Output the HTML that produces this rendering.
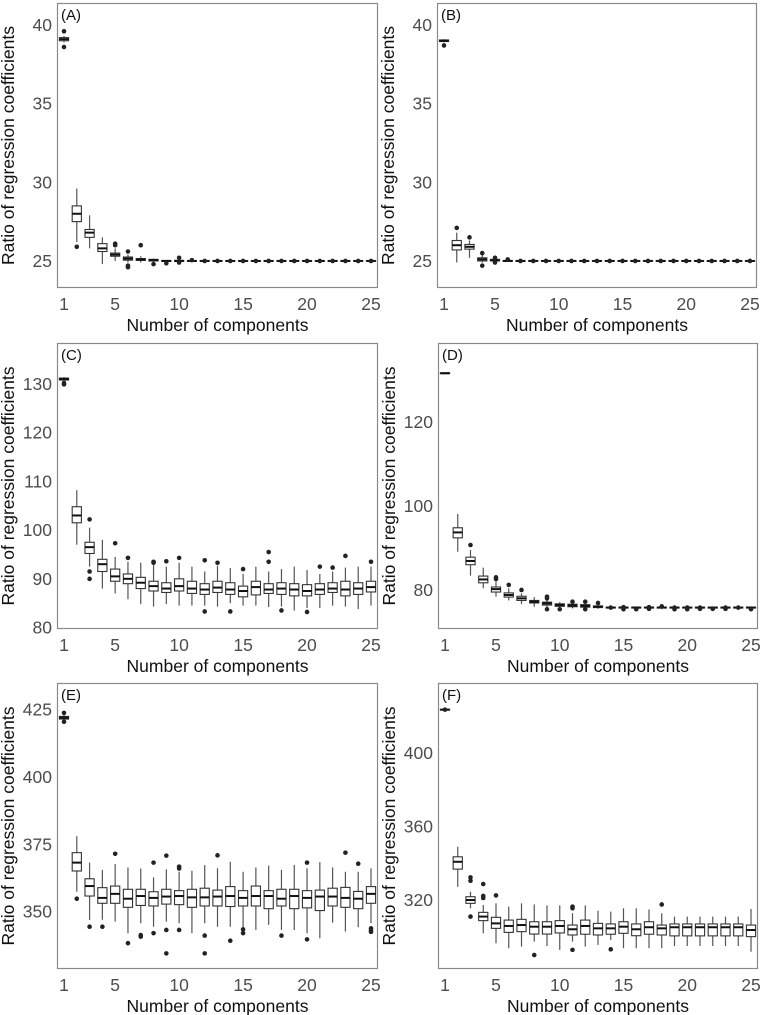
<!DOCTYPE html>
<html><head><meta charset="utf-8">
<style>
body{margin:0;background:#fff;}
svg{display:block;font-family:"Liberation Sans",sans-serif;}
</style></head>
<body>
<svg id="chart" width="760" height="1015" viewBox="0 0 760 1015" xmlns="http://www.w3.org/2000/svg"></svg>
<script>
const categories=[1,2,3,4,5,6,7,8,9,10,11,12,13,14,15,16,17,18,19,20,21,22,23,24,25];
const xTickLabels=[1,5,10,15,20,25];
const panelLabels=["(A)","(B)","(C)","(D)","(E)","(F)"];
const yTicksA=[25,30,35,40], yTicksB=[25,30,35,40], yTicksC=[80,90,100,110,120,130], yTicksD=[80,100,120], yTicksE=[350,375,400,425], yTicksF=[320,360,400];
// Panel A
const medA=[39.1,28.0,26.8,25.8,25.4,25.15,25.1,25.05,25.0,25.0,25.0,25.0,25.0,25.0,25.0,25.0,25.0,25.0,25.0,25.0,25.0,25.0,25.0,25.0,25.0];
const q1A=[39.0,27.5,26.5,25.6,25.3,25.05,25.03,25.0,24.97,24.97,24.98,24.98,24.98,24.98,24.98,24.98,24.98,24.98,24.98,24.98,24.98,24.98,24.98,24.98,24.98];
const q3A=[39.2,28.5,27.0,26.1,25.5,25.25,25.15,25.1,25.03,25.04,25.02,25.02,25.02,25.02,25.02,25.02,25.02,25.02,25.02,25.02,25.02,25.02,25.02,25.02,25.02];
const loA=[38.9,26.2,25.8,24.8,25.0,24.9,24.9,24.95,24.95,24.93,24.96,24.96,24.96,24.96,24.96,24.96,24.96,24.96,24.96,24.96,24.96,24.96,24.96,24.96,24.96];
const hiA=[39.3,29.6,27.9,26.5,25.8,25.4,25.3,25.15,25.06,25.1,25.04,25.04,25.04,25.04,25.04,25.04,25.04,25.04,25.04,25.04,25.04,25.04,25.04,25.04,25.04];
const outA=[[1,39.6],[1,38.6],[2,25.9],[5,26.1],[5,26.0],[6,25.6],[6,24.7],[6,24.6],[7,26.0],[8,24.8],[9,24.85],[10,25.2],[10,24.9],[11,25.05],[12,25.0],[13,25.0],[14,25.0],[15,25.0],[16,25.0],[17,25.0],[18,25.0],[19,25.0],[20,25.0],[21,25.0],[22,25.0],[23,25.0],[24,25.0],[25,25.0]];
// Panel B
const medB=[39.0,26.0,25.9,25.1,25.05,25.0,25.0,25.0,25.0,25.0,25.0,25.0,25.0,25.0,25.0,25.0,25.0,25.0,25.0,25.0,25.0,25.0,25.0,25.0,25.0];
const q1B=[38.95,25.7,25.75,25.0,25.0,24.97,24.98,24.98,24.98,24.98,24.98,24.98,24.98,24.98,24.98,24.98,24.98,24.98,24.98,24.98,24.98,24.98,24.98,24.98,24.98];
const q3B=[39.05,26.3,26.05,25.2,25.1,25.03,25.02,25.02,25.02,25.02,25.02,25.02,25.02,25.02,25.02,25.02,25.02,25.02,25.02,25.02,25.02,25.02,25.02,25.02,25.02];
const loB=[38.9,24.9,25.2,24.9,24.95,24.95,24.96,24.96,24.96,24.96,24.96,24.96,24.96,24.96,24.96,24.96,24.96,24.96,24.96,24.96,24.96,24.96,24.96,24.96,24.96];
const hiB=[39.1,26.8,26.3,25.4,25.15,25.06,25.04,25.04,25.04,25.04,25.04,25.04,25.04,25.04,25.04,25.04,25.04,25.04,25.04,25.04,25.04,25.04,25.04,25.04,25.04];
const outB=[[1,38.7],[2,27.1],[3,26.5],[4,24.7],[4,25.5],[5,25.2],[5,24.9],[6,25.1],[7,25.0],[8,25.0],[9,25.0],[10,25.0],[11,25.0],[12,25.0],[13,25.0],[14,25.0],[15,25.0],[16,25.0],[17,25.0],[18,25.0],[19,25.0],[20,25.0],[21,25.0],[22,25.0],[23,25.0],[24,25.0],[25,25.0]];
// Panel C
const medC=[131,103,96.5,93,90.5,90,89.2,88.5,88,88.5,88,87.8,88.2,87.8,87.5,88.3,87.8,88,87.8,87.5,87.8,88,87.8,88,88.3];
const q1C=[130.8,101.5,95.2,91.5,89.5,89,88,87.5,87.2,87.5,87,86.8,87.2,86.8,86.3,86.7,87,86.8,86.5,86.5,86.8,87.2,86.5,86.8,87.3];
const q3C=[131.2,104.8,97.5,94,92,91,90.3,89.5,89.2,90,89.5,89,89.5,89.2,88.5,89.5,89,89.2,89,88.8,89,89.2,89.5,89.2,89.5];
const loC=[130.6,97,92.5,88,87,85.8,84.8,84.3,84.8,84.5,84.5,84.5,84.3,85,84.5,84.5,84.2,84.3,83.5,84,84,84.5,84.3,83.8,84.5];
const hiC=[131.4,108.2,100.5,98,94.5,93.5,93.3,92.8,92.5,93.3,92.5,91.5,92.7,92.2,91,92.5,91.5,92,92.5,91.8,91,91.5,92.3,92.5,92.5];
const outC=[[1,130.2],[1,129.9],[3,102.2],[3,91.5],[3,90],[5,97.3],[6,94.3],[8,93.5],[8,93.3],[9,93.6],[10,94.3],[12,93.8],[12,83.3],[13,93.3],[14,83.3],[15,92],[17,95.5],[17,93.5],[18,83.5],[20,83.2],[21,92.5],[22,92.3],[23,94.7],[25,93.5]];
// Panel D
const medD=[131.6,93.7,86.9,82.5,80.2,78.8,78,77.2,76.8,76.4,76.3,76.2,76,75.8,75.8,75.8,75.8,75.8,75.8,75.8,75.8,75.8,75.8,75.8,75.8];
const q1D=[131.5,92.4,86,81.7,79.5,78.3,77.5,76.9,76.4,76.1,76.0,75.9,75.8,75.7,75.7,75.7,75.7,75.7,75.7,75.7,75.7,75.7,75.7,75.7,75.7];
const q3D=[131.7,94.8,87.8,83.3,80.7,79.3,78.5,77.5,77.1,76.7,76.6,76.5,76.2,75.9,75.9,75.9,75.9,75.9,75.9,75.9,75.9,75.9,75.9,75.9,75.9];
const loD=[131.4,89.1,83.4,80.4,78.4,77.5,76.6,76,75.9,75.6,75.6,75.6,75.5,75.5,75.4,75.4,75.4,75.4,75.4,75.4,75.4,75.4,75.4,75.5,75.4];
const hiD=[131.8,98.1,89.5,85.3,82,80.4,79.2,78.3,77.6,77.1,77,76.9,76.6,76.1,76.1,76.1,76.1,76.1,76.1,76.1,76.1,76.1,76.1,76.1,76.1];
const outD=[[3,90.7],[5,83],[5,82.6],[6,81.2],[7,80],[9,78.4],[9,78],[9,75.4],[10,75.4],[11,77.2],[12,77.2],[12,75.4],[13,76.9],[14,75.8],[15,75.4],[15,75.9],[16,75.4],[17,75.5],[17,75.9],[18,76.1],[19,75.4],[19,75.8],[20,75.4],[20,75.8],[21,75.5],[21,75.8],[22,75.5],[23,75.5],[23,75.8],[24,75.8],[25,75.4]];
// Panel E
const medE=[422,368.2,359.5,355.1,356.6,354.8,355.8,355.1,355.6,355.8,355.3,355.3,355.6,355.8,355.1,355.8,355.8,354.8,355.8,355.1,355.6,355.6,355.1,354.8,356.6];
const q1E=[421.5,365.1,355.8,353.1,353.1,351.6,352.3,352.1,352.8,352.6,351.6,352.1,352.1,351.9,352.1,352.1,351.1,352.1,351.1,351.4,350.4,352.1,351.6,351.1,353.1];
const q3E=[422.5,371.9,362.2,358.9,359.5,358.3,358.3,357.4,358.3,357.8,358.3,358.7,358.0,359.3,357.8,359.5,357.8,358.3,358.3,357.8,358.0,358.7,359.0,357.5,359.3];
const loE=[421,357.4,346.9,347,346.3,342,345.7,344.4,346.3,345.7,342,345.7,344.4,344.4,342,343.2,345.1,343.2,343.2,342,340.1,345.9,342.6,344.2,345.7];
const hiE=[423,378,368.2,365.5,367.7,366.4,366,362.7,365.7,364.8,365.2,367.3,366.1,368.5,364.8,366.4,367.1,365.5,367.3,366.1,368.4,366.4,364.8,364.8,366.1];
const outE=[[1,423.8],[1,420.5],[2,354.8],[3,344.4],[4,344.4],[5,371.5],[6,338.3],[7,341.3],[7,340.7],[8,368.2],[8,342],[9,370.8],[9,343.2],[9,334.5],[10,366.7],[10,366],[10,343.2],[12,341.1],[12,334.5],[13,370.9],[14,339.2],[15,343.4],[15,342],[18,341.1],[20,368.2],[20,339.7],[23,371.9],[24,367.8],[25,343.8],[25,343],[25,342.5]];
// Panel F
const medF=[423.5,340.8,320,311,307.3,305.9,306.4,305.5,305.5,305.9,304.1,305.9,304.6,304.6,305.5,304.1,305.2,304.6,305.2,305.2,305.2,305.2,305.2,305.2,303.7];
const q1F=[423.3,336.8,318.2,308.8,304.6,302.4,302.8,301.5,301.5,302.1,301,301.4,301,301.4,301.9,300.6,301.4,301,300.5,300.5,300.5,300.5,300.5,300.5,300.1];
const q3F=[423.7,343.5,321.8,313.3,310.6,309.1,309.5,308.2,308.2,308.8,306.4,309.1,307.3,307,308.2,307,308.2,306.4,307,307,307,307,307,307,306.4];
const loF=[423.1,327.2,315.5,301.9,296.5,293.8,294.7,297.4,295,292.9,297.4,294.7,295.6,298.3,293.8,293.8,293.8,293.8,295,295,295,295,295,295,291.9];
const hiF=[423.9,349,324.5,317.3,318.2,316.4,318.2,317.6,317.1,317.1,312.8,317.1,314.2,313.7,315.5,315.5,314.9,312.8,311,311,311,311,311,311,315.1];
const outF=[[1,423.5],[3,332.3],[3,330.5],[3,311],[4,328.7],[4,322.2],[4,321.1],[5,322.5],[8,290.1],[11,316.4],[11,315.5],[11,292.9],[14,293.2],[18,317.6]];

const panels=[
 {name:"a",left:57,right:378,top:3,bottom:288,ymin:23.28,ymax:41.4,ticks:yTicksA,med:medA,q1:q1A,q3:q3A,lo:loA,hi:hiA,out:outA},
 {name:"b",left:437,right:757,top:3,bottom:288,ymin:23.28,ymax:41.4,ticks:yTicksB,med:medB,q1:q1B,q3:q3B,lo:loB,hi:hiB,out:outB},
 {name:"c",left:57,right:378,top:343,bottom:629,ymin:79.7,ymax:138.4,ticks:yTicksC,med:medC,q1:q1C,q3:q3C,lo:loC,hi:hiC,out:outC},
 {name:"d",left:438,right:758,top:343,bottom:629,ymin:70.7,ymax:138.8,ticks:yTicksD,med:medD,q1:q1D,q3:q3D,lo:loD,hi:hiD,out:outD},
 {name:"e",left:57,right:378,top:683,bottom:969,ymin:328.7,ymax:434.9,ticks:yTicksE,med:medE,q1:q1E,q3:q3E,lo:loE,hi:hiE,out:outE},
 {name:"f",left:438,right:758,top:683,bottom:969,ymin:282.5,ymax:438,ticks:yTicksF,med:medF,q1:q1F,q3:q3F,lo:loF,hi:hiF,out:outF}
];
const NS="http://www.w3.org/2000/svg";
const svg=document.getElementById('chart');
function mk(tag,attrs,parent){const e=document.createElementNS(NS,tag);for(const k in attrs)e.setAttribute(k,attrs[k]);(parent||svg).appendChild(e);return e;}
panels.forEach((p,pi)=>{
 const g=mk('g',{});
 
 
 const xs=i=>p.left+7+(i-1)*(p.right-p.left-14)/24;
 const ys=v=>p.bottom-(v-p.ymin)/(p.ymax-p.ymin)*(p.bottom-p.top);
 const fr=mk('rect',{x:p.left+0.5,y:p.top+0.5,width:p.right-p.left-1,height:p.bottom-p.top-1,fill:'#fff',stroke:'#8a8a8a','stroke-width':1.2},g);
 
 
 const pl=mk('text',{x:p.left+4,y:p.top+17,'font-size':15,fill:'#111'},g);
 pl.textContent=panelLabels[pi];
 
 
 p.ticks.forEach(t=>{
  const tx=mk('text',{x:p.left-5,y:ys(t)+6,'font-size':17.5,fill:'#4d4d4d','text-anchor':'end'},g);
  tx.textContent=t;
  
  
 });
 xTickLabels.forEach(t=>{
  const tx=mk('text',{x:xs(t),y:p.bottom+22,'font-size':17.5,fill:'#4d4d4d','text-anchor':'middle'},g);
  tx.textContent=t;
  
  
 });
 const xt=mk('text',{x:(p.left+p.right)/2,y:p.bottom+43,'font-size':17.5,fill:'#111','text-anchor':'middle'},g);
 xt.textContent='Number of components';
 
 
 const cy=(p.top+p.bottom)/2, cx=p.left-43;
 const yt=mk('text',{x:cx,y:cy,'font-size':17.5,fill:'#111','text-anchor':'middle',transform:`rotate(-90 ${cx} ${cy})`},g);
 yt.textContent='Ratio of regression coefficients';
 
 
 categories.forEach((c,i)=>{
  const x=xs(c), hw=4.6;
  const bg=mk('g',{},g);
  
  
  mk('line',{x1:x,x2:x,y1:ys(p.hi[i]),y2:ys(p.q3[i]),stroke:'#555','stroke-width':1.2},bg);
  mk('line',{x1:x,x2:x,y1:ys(p.q1[i]),y2:ys(p.lo[i]),stroke:'#555','stroke-width':1.2},bg);
  const t=ys(p.q3[i]), b=ys(p.q1[i]);
  mk('rect',{x:x-hw,y:t,width:hw*2,height:Math.max(b-t,0.5),fill:'#fff',stroke:'#333','stroke-width':1.1},bg);
  mk('line',{x1:x-hw,x2:x+hw,y1:ys(p.med[i]),y2:ys(p.med[i]),stroke:'#111','stroke-width':2},bg);
 });
 p.out.forEach(o=>{
  const c=mk('circle',{cx:xs(o[0]),cy:ys(o[1]),r:2.3,fill:'#222'},g);
  
  
 });
});
</script>
</body></html>
